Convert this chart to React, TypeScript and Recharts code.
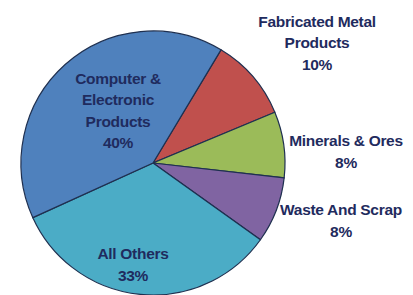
import React from "react";
import { PieChart, Pie, Cell } from "recharts";

const categories = [
  "Fabricated Metal Products",
  "Minerals & Ores",
  "Waste And Scrap",
  "All Others",
  "Computer & Electronic Products",
];
const values = [10, 8, 8, 33, 40];
const labelLines = [
  ["Fabricated Metal", "Products", "10%"],
  ["Minerals & Ores", "8%"],
  ["Waste And Scrap", "8%"],
  ["All Others", "33%"],
  ["Computer &", "Electronic", "Products", "40%"],
];
const colors = ["#C0504D", "#9BBB59", "#8064A2", "#4BACC6", "#4F81BD"];

const data = categories.map((name, i) => ({ name, value: values[i] }));

// label block centres, relative to the pie centre
const labelOffsets: Record<string, [number, number]> = {
  "Fabricated Metal Products": [164, -121],
  "Minerals & Ores": [193, -12],
  "Waste And Scrap": [188, 57],
  "All Others": [-20, 101],
  "Computer & Electronic Products": [-35, -53],
};

const LINE_H = 21.5;

const renderLabel = (props: any) => {
  const { cx, cy, index } = props;
  const name = categories[index];
  const lines = labelLines[index];
  const [ox, oy] = labelOffsets[name];
  const x = cx + ox;
  const y0 = cy + oy - ((lines.length - 1) * LINE_H) / 2;
  return (
    <text
      key={name}
      x={x}
      y={y0}
      textAnchor="middle"
      dominantBaseline="central"
      fill="#1F2B5E"
      fontFamily="'Liberation Sans Narrow', 'Arial Narrow', 'Liberation Sans', sans-serif"
      fontWeight="bold"
      fontSize={15.5}
      letterSpacing={-0.3}
    >
      {lines.map((l, i) => (
        <tspan key={i} x={x} dy={i === 0 ? 0 : LINE_H}>
          {l}
        </tspan>
      ))}
    </text>
  );
};

export default function App() {
  return (
    <div style={{ position: "absolute", left: 0, top: 0, width: 413, height: 295, background: "#fff" }}>
      <PieChart width={413} height={295} margin={{ top: 0, right: 0, bottom: 0, left: 0 }}>
        <Pie
          data={data}
          dataKey="value"
          nameKey="name"
          cx={153}
          cy={163}
          outerRadius={132}
          startAngle={59}
          endAngle={-301}
          stroke="#1F3050"
          strokeWidth={1.2}
          label={renderLabel}
          labelLine={false}
          isAnimationActive={false}
        >
          {data.map((d, i) => (
            <Cell key={d.name} fill={colors[i]} />
          ))}
        </Pie>
      </PieChart>
    </div>
  );
}
